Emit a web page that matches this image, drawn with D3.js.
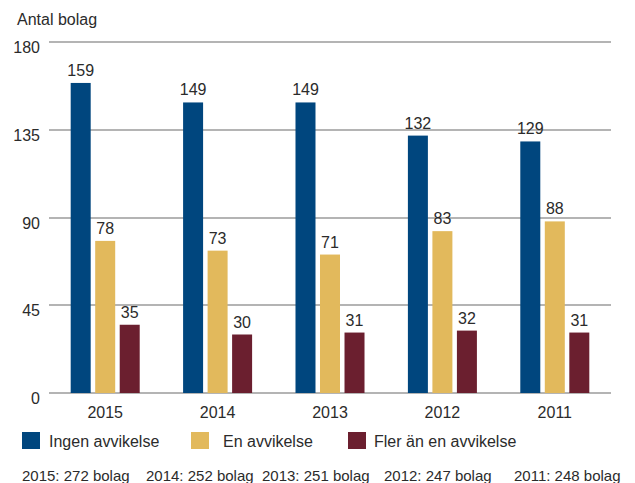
<!DOCTYPE html>
<html>
<meta charset="utf-8">
<head>
<style>
body { margin: 0; background: #fff; }
svg text { font-family: Arial, "Liberation Sans", sans-serif; fill: #2b2b2b; }
.grid line { stroke: #b4b4b4; stroke-width: 1.6; shape-rendering: crispEdges; }
</style>
</head>
<body>
<svg width="635" height="483"></svg>

<script src="https://cdnjs.cloudflare.com/ajax/libs/d3/7.8.5/d3.min.js"></script>
<script>

// data
var years = ["2015", "2014", "2013", "2012", "2011"];
var seriesNames = ["Ingen avvikelse", "En avvikelse", "Fler än en avvikelse"];
var ingen = [159, 149, 149, 132, 129];
var en = [78, 73, 71, 83, 88];
var fler = [35, 30, 31, 32, 31];
var yTicks = [0, 45, 90, 135, 180];
var notes = ["2015: 272 bolag", "2014: 252 bolag", "2013: 251 bolag", "2012: 247 bolag", "2011: 248 bolag"];

var colors = ["#00467e", "#e2b95c", "#6b1f2f"];
var series = [ingen, en, fler];

var svg = d3.select("svg");

var x = d3.scaleBand().domain(years).range([49, 611])
  .paddingInner(0.386).paddingOuter(0.193);
var xs = d3.scaleBand().domain([0, 1, 2]).range([0, x.bandwidth()])
  .paddingInner(0.184);
var y = d3.scaleLinear().domain([0, 180]).range([393, 42]);

// gridlines + y labels
var grid = svg.append("g").attr("class", "grid");
grid.selectAll("line").data(yTicks).enter().append("line")
  .attr("x1", 49).attr("x2", 611)
  .attr("y1", function(d) { return Math.round(y(d)); })
  .attr("y2", function(d) { return Math.round(y(d)); });

svg.append("g").selectAll("text").data(yTicks).enter().append("text")
  .attr("x", 40)
  .attr("y", function(d) { return y(d) + 11; })
  .attr("text-anchor", "end")
  .style("font-size", "16px")
  .text(function(d) { return d; });

svg.append("text")
  .attr("x", 17).attr("y", 25)
  .style("font-size", "16px")
  .text("Antal bolag");

// bars
var groups = svg.append("g").selectAll("g").data(years).enter().append("g")
  .attr("transform", function(d) { return "translate(" + x(d) + ",0)"; });

groups.selectAll("rect")
  .data(function(d, i) { return series.map(function(s, k) { return {k: k, v: s[i]}; }); })
  .enter().append("rect")
  .attr("x", function(d) { return xs(d.k); })
  .attr("width", xs.bandwidth())
  .attr("y", function(d) { return y(d.v); })
  .attr("height", function(d) { return y(0) - y(d.v); })
  .attr("fill", function(d) { return colors[d.k]; });

groups.selectAll("text.val")
  .data(function(d, i) { return series.map(function(s, k) { return {k: k, v: s[i]}; }); })
  .enter().append("text")
  .attr("class", "val")
  .attr("x", function(d) { return xs(d.k) + xs.bandwidth() / 2; })
  .attr("y", function(d) { return y(d.v) - 7; })
  .attr("text-anchor", "middle")
  .style("font-size", "16px")
  .text(function(d) { return d.v; });

// x labels
svg.append("g").selectAll("text").data(years).enter().append("text")
  .attr("x", function(d) { return x(d) + x.bandwidth() / 2; })
  .attr("y", 418)
  .attr("text-anchor", "middle")
  .style("font-size", "16px")
  .text(function(d) { return d; });

// legend
var legendX = [22, 191, 348], legendTextX = [49, 223, 374];
var legend = svg.append("g").selectAll("g").data(seriesNames).enter().append("g");
legend.append("rect")
  .attr("x", function(d, i) { return legendX[i]; })
  .attr("y", 432).attr("width", 18).attr("height", 17)
  .attr("fill", function(d, i) { return colors[i]; });
legend.append("text")
  .attr("x", function(d, i) { return legendTextX[i]; })
  .attr("y", 447)
  .style("font-size", "16px")
  .text(function(d) { return d; });

// bolag count per year
var noteX = [22, 146, 262, 384, 514];
svg.append("g").selectAll("text").data(notes).enter().append("text")
  .attr("x", function(d, i) { return noteX[i]; })
  .attr("y", 481)
  .style("font-size", "15px")
  .text(function(d) { return d; });

</script>
</body>
</html>
